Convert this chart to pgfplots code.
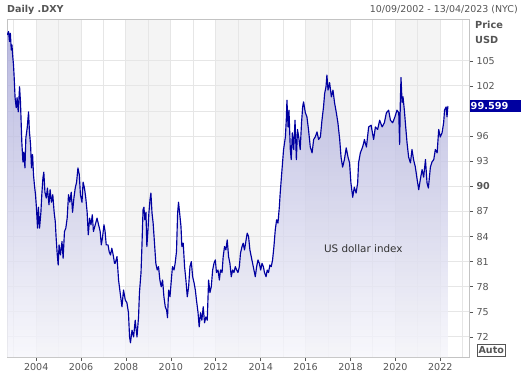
\documentclass[border=0pt]{standalone}
\usepackage{pgfplots}
\pgfplotsset{compat=1.18}
\usepackage{pgfplotstable}
\usepackage{fontspec}
\setmainfont{DejaVu Sans}
\definecolor{linec}{RGB}{0,0,160}
\definecolor{bandc}{RGB}{244,244,244}
\definecolor{gridc}{RGB}{230,230,230}
\definecolor{framec}{RGB}{195,195,195}
\definecolor{txtc}{RGB}{85,85,85}
\definecolor{topc}{RGB}{168,168,216}
\definecolor{midc}{RGB}{214,214,236}
\definecolor{botc}{RGB}{246,246,251}
\pgfplotstableread{
x y
2002.71 108.1
2002.77 108.5
2002.81 107.3
2002.85 108.3
2002.89 106.3
2002.92 106.9
2002.96 105.4
2002.99 104.5
2003.02 103.0
2003.06 100.6
2003.11 99.4
2003.15 100.6
2003.20 98.9
2003.26 101.9
2003.30 100.1
2003.33 97.7
2003.36 95.3
2003.41 92.9
2003.45 94.1
2003.50 92.2
2003.54 95.8
2003.60 97.0
2003.66 98.9
2003.70 96.5
2003.75 95.0
2003.79 92.2
2003.84 93.8
2003.88 91.4
2003.92 90.2
2003.97 89.0
2004.01 87.5
2004.06 85.0
2004.10 87.5
2004.15 85.0
2004.21 86.9
2004.25 89.0
2004.30 91.0
2004.34 91.7
2004.39 89.3
2004.45 88.6
2004.50 89.8
2004.57 87.8
2004.62 89.6
2004.68 88.1
2004.74 89.0
2004.80 86.9
2004.85 85.8
2004.89 83.8
2004.94 81.8
2004.98 80.6
2005.02 83.0
2005.08 81.8
2005.15 83.4
2005.20 81.4
2005.26 84.6
2005.32 85.0
2005.38 86.2
2005.44 89.0
2005.50 88.1
2005.56 89.3
2005.62 86.9
2005.68 88.6
2005.74 89.8
2005.80 90.5
2005.86 92.2
2005.92 91.4
2005.97 89.0
2006.04 88.1
2006.09 90.5
2006.15 89.8
2006.21 88.6
2006.27 86.9
2006.32 84.2
2006.38 86.2
2006.44 85.4
2006.50 86.6
2006.55 84.6
2006.63 85.4
2006.71 86.2
2006.78 85.4
2006.85 84.6
2006.90 83.0
2006.95 83.8
2007.02 85.4
2007.07 84.6
2007.12 83.0
2007.20 83.0
2007.25 82.2
2007.31 81.8
2007.37 82.6
2007.43 81.8
2007.49 80.8
2007.52 80.8
2007.60 81.6
2007.67 78.8
2007.74 77.3
2007.82 75.6
2007.89 77.6
2007.97 76.4
2008.04 76.1
2008.11 74.9
2008.16 72.0
2008.20 71.3
2008.27 72.8
2008.34 72.0
2008.41 74.0
2008.49 72.0
2008.56 74.4
2008.60 77.3
2008.67 79.7
2008.71 82.8
2008.76 87.2
2008.80 87.5
2008.84 86.0
2008.89 86.9
2008.93 82.8
2008.98 84.8
2009.02 86.8
2009.07 88.4
2009.11 89.2
2009.16 86.8
2009.21 85.6
2009.27 83.2
2009.33 80.8
2009.39 80.0
2009.45 80.4
2009.51 78.8
2009.57 78.0
2009.63 78.8
2009.69 76.8
2009.75 75.6
2009.81 75.2
2009.85 74.3
2009.90 77.6
2009.96 76.8
2010.02 78.8
2010.07 80.4
2010.14 80.0
2010.19 80.8
2010.25 82.2
2010.30 86.8
2010.34 88.1
2010.39 86.8
2010.45 85.2
2010.49 82.8
2010.55 83.2
2010.61 80.4
2010.67 78.8
2010.73 76.8
2010.79 78.0
2010.85 80.4
2010.91 81.0
2010.97 79.2
2011.03 78.5
2011.09 77.6
2011.14 76.4
2011.21 74.9
2011.26 73.2
2011.32 74.9
2011.38 74.0
2011.44 75.6
2011.50 73.7
2011.56 74.4
2011.62 74.0
2011.68 78.8
2011.74 77.3
2011.80 78.0
2011.86 80.0
2011.92 80.8
2011.98 81.2
2012.03 79.7
2012.10 80.0
2012.16 78.8
2012.21 80.0
2012.28 79.7
2012.33 81.6
2012.39 82.8
2012.45 82.4
2012.51 83.6
2012.57 81.6
2012.63 80.8
2012.69 79.2
2012.75 80.0
2012.81 79.7
2012.87 80.4
2012.93 80.0
2012.99 79.7
2013.05 80.4
2013.10 82.0
2013.17 82.8
2013.22 83.2
2013.28 82.4
2013.35 83.6
2013.40 84.4
2013.46 84.0
2013.52 82.4
2013.58 81.6
2013.64 80.8
2013.70 80.0
2013.76 79.2
2013.82 80.4
2013.88 81.2
2013.94 80.8
2014.00 80.0
2014.06 80.8
2014.12 80.4
2014.17 79.7
2014.24 79.2
2014.29 80.0
2014.35 79.7
2014.41 80.6
2014.47 80.4
2014.53 81.2
2014.59 82.8
2014.65 84.8
2014.71 86.0
2014.77 85.6
2014.83 87.5
2014.87 89.2
2014.95 92.0
2015.02 94.4
2015.10 95.9
2015.14 97.9
2015.17 100.3
2015.22 97.1
2015.26 99.1
2015.32 94.4
2015.36 93.2
2015.41 96.4
2015.47 94.4
2015.53 97.9
2015.59 93.2
2015.64 96.8
2015.71 95.6
2015.76 94.4
2015.82 97.6
2015.87 99.5
2015.91 100.1
2015.99 98.8
2016.06 98.3
2016.13 96.8
2016.21 94.7
2016.29 94.0
2016.36 95.6
2016.43 95.9
2016.51 96.5
2016.58 95.6
2016.66 95.9
2016.73 97.9
2016.80 99.5
2016.85 101.1
2016.91 101.9
2016.95 103.3
2017.00 101.5
2017.07 102.4
2017.15 100.7
2017.22 101.5
2017.29 100.0
2017.37 98.8
2017.44 97.6
2017.52 95.6
2017.58 93.5
2017.65 92.3
2017.73 93.2
2017.81 94.6
2017.89 93.5
2017.96 92.8
2018.02 90.4
2018.10 88.7
2018.17 89.9
2018.25 89.2
2018.32 90.4
2018.36 92.8
2018.44 94.0
2018.54 94.7
2018.59 95.2
2018.62 95.6
2018.71 94.7
2018.81 97.1
2018.92 97.3
2019.03 95.6
2019.11 97.1
2019.21 96.8
2019.30 97.9
2019.41 97.1
2019.51 97.6
2019.60 98.8
2019.70 99.1
2019.78 97.9
2019.88 97.6
2019.98 98.3
2020.07 99.1
2020.15 98.8
2020.19 95.0
2020.22 100.0
2020.25 103.0
2020.30 100.0
2020.34 100.7
2020.40 99.1
2020.46 97.1
2020.52 95.2
2020.59 93.5
2020.67 92.8
2020.74 94.4
2020.81 93.2
2020.89 92.3
2020.97 90.8
2021.04 89.6
2021.11 90.8
2021.19 92.0
2021.26 91.1
2021.34 93.2
2021.41 90.4
2021.47 89.8
2021.56 92.3
2021.63 92.9
2021.71 93.2
2021.78 94.4
2021.86 94.0
2021.93 96.8
2022.00 95.9
2022.08 96.4
2022.15 97.6
2022.19 99.1
2022.26 99.5
2022.30 98.3
2022.34 99.6
}\dxy
\begin{document}
\begin{tikzpicture}[x=1bp,y=1bp]
\begin{axis}[
  set layers,
  at={(7bp,15bp)}, anchor=south west,
  scale only axis, width=462bp, height=338bp,
  xmin=2002.70, xmax=2023.28, ymin=69.6, ymax=110,
  xtick={2004,2006,...,2022},
  xticklabels={2004,2006,2008,2010,2012,2014,2016,2018,2020,2022},
  minor xtick={2003,2005,...,2023},
  ytick={72,75,...,105},
  yticklabels={72,75,78,81,84,87,\textbf{90},93,96,{},102,105},
  xtick pos=left, xticklabel pos=left,
  ytick pos=right, yticklabel pos=right,
  tick align=outside,
  major tick length=4bp, minor tick length=0pt,
  tick style={color=txtc, line width=0.6bp},
  grid=both,
  major grid style={draw=gridc, line width=1bp},
  minor grid style={draw=gridc, line width=1bp},
  axis line style={draw=framec, line width=0.8bp},
  ticklabel style={font=\fontsize{9.6}{11}\selectfont, text=txtc},
  xticklabel style={yshift=1.5bp},
  /pgf/number format/assume math mode=true,
]
\begin{pgfonlayer}{axis background}
\fill[bandc] (axis cs:2004,69.6) rectangle (axis cs:2006,110);
\fill[bandc] (axis cs:2008,69.6) rectangle (axis cs:2010,110);
\fill[bandc] (axis cs:2012,69.6) rectangle (axis cs:2014,110);
\fill[bandc] (axis cs:2016,69.6) rectangle (axis cs:2018,110);
\fill[bandc] (axis cs:2020,69.6) rectangle (axis cs:2022,110);
\end{pgfonlayer}
\addplot[draw=none, top color=topc, middle color=midc, bottom color=botc, fill opacity=0.8, forget plot]
  table[x=x, y=y] {\dxy} -- (axis cs:2022.34,69.6) -- (axis cs:2002.71,69.6) -- cycle;
\addplot[color=linec, line width=1.15bp, line join=round] table[x=x, y=y] {\dxy};
\node[font=\fontsize{10.4}{12}\selectfont, text={rgb,255:red,50;green,50;blue,50}] at (axis cs:2018.57,82.6) {US dollar index};
\end{axis}
\node[anchor=west, font=\bfseries\fontsize{9.6}{11}\selectfont, text=txtc, inner sep=0] at (7,362) {Daily .DXY};
\node[anchor=east, font=\fontsize{9.5}{11}\selectfont, text=txtc, inner sep=0] at (518,362) {10/09/2002 - 13/04/2023 (NYC)};
\node[anchor=west, font=\bfseries\fontsize{9.8}{11}\selectfont, text=txtc, inner sep=0] at (475,347) {Price};
\node[anchor=west, font=\bfseries\fontsize{9.8}{11}\selectfont, text=txtc, inner sep=0] at (475,332) {USD};
\fill[linec] (470,260) rectangle (521,272);
\node[anchor=west, font=\bfseries\fontsize{9.8}{11}\selectfont, text=white, inner sep=0] at (470.5,266) {99.599};
\draw[txtc, line width=0.8bp] (477.5,15.5) rectangle (505,28);
\node[font=\bfseries\fontsize{9.6}{11}\selectfont, text=txtc, inner sep=0] at (491.25,21.75) {Auto};
\pgfresetboundingbox
\useasboundingbox (0,0) rectangle (521,372);
\end{tikzpicture}
\end{document}
